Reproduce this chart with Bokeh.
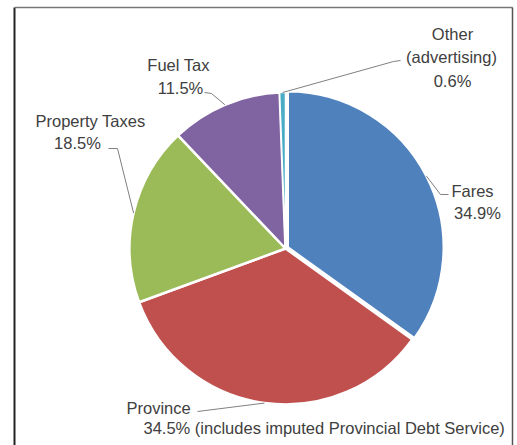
import math
from bokeh.plotting import figure
from bokeh.models import Range1d
from bokeh.core.properties import value
from bokeh.embed import file_html
from bokeh.resources import INLINE

# ---- data ----
categories = ["Fares", "Province", "Property Taxes", "Fuel Tax", "Other (advertising)"]
shares = [34.9, 34.5, 18.5, 11.5, 0.6]
label_lines = [["Fares"], ["Province"], ["Property Taxes"], ["Fuel Tax"], ["Other", "(advertising)"]]
notes = ["", " (includes imputed Provincial Debt Service)", "", "", ""]

# ---- style ----
colors = ["#4F81BD", "#C0504D", "#9BBB59", "#8064A2", "#4BACC6"]
W, H = 517, 445
FONT = value("Liberation Sans")
FS = "16.5px"
TXT = "#404040"
LEAD = "#808080"


def Y(py):
    return H - py


p = figure(width=W, height=H, x_range=Range1d(0, W), y_range=Range1d(0, H),
           output_backend="svg", toolbar_location=None, min_border=0)
p.axis.visible = False
p.grid.visible = False
p.outline_line_color = None
p.background_fill_color = "white"
p.border_fill_color = "white"

# frame
p.line([14, 14], [Y(445), Y(7)], line_color="#222222", line_width=2)
p.line([14, 512], [Y(7), Y(7)], line_color="#777777", line_width=1.5)
p.line([512, 512], [Y(7), Y(445)], line_color="#555555", line_width=1.5)

# pie
cx, cy, R = 285, Y(248), 156
total = sum(shares)
explode = [2.5, 0, 0, 0, 0]
cum = 0.0
mids = []
centers = []
for i, s in enumerate(shares):
    a0 = math.pi / 2 - 2 * math.pi * cum / total
    cum += s
    a1 = math.pi / 2 - 2 * math.pi * cum / total
    mid = (a0 + a1) / 2
    ox = cx + explode[i] * math.cos(mid)
    oy = cy + explode[i] * math.sin(mid)
    mids.append(mid)
    centers.append((ox, oy))
    p.wedge(x=[ox], y=[oy], radius=R, start_angle=a0, end_angle=a1,
            direction="clock", fill_color=colors[i], line_color="white",
            line_width=2.5 if s > 1 else 1.5)


def edge(i):
    ox, oy = centers[i]
    return ox + R * math.cos(mids[i]), oy + R * math.sin(mids[i])


pct = [f"{s:.1f}%" for s in shares]

# Fares
ex, ey = edge(0)
p.line([ex, 440, 448], [ey, Y(194), Y(194)], line_color=LEAD, line_width=1)
p.text(x=[472, 477], y=[Y(190), Y(212)], text=[label_lines[0][0], pct[0]],
       text_font=FONT, text_font_size=FS, text_color=TXT,
       text_align="center", text_baseline="middle")

# Province
ex, ey = edge(1)
p.line([197, ex], [Y(411), ey], line_color=LEAD, line_width=1)
p.text(x=[126, 143], y=[Y(407), Y(427)], text=[label_lines[1][0], pct[1] + notes[1]],
       text_font=FONT, text_font_size=FS, text_color=TXT,
       text_align="left", text_baseline="middle")

# Property Taxes
ex, ey = edge(2)
p.line([108, 117, ex], [Y(148), Y(148), ey], line_color=LEAD, line_width=1)
p.text(x=[90, 77], y=[Y(120), Y(142)], text=[label_lines[2][0], pct[2]],
       text_font=FONT, text_font_size=FS, text_color=TXT,
       text_align="center", text_baseline="middle")

# Fuel Tax
ex, ey = edge(3)
p.line([204, 211, ex], [Y(92), Y(93), ey], line_color=LEAD, line_width=1)
p.text(x=[178, 180], y=[Y(64), Y(87)], text=[label_lines[3][0], pct[3]],
       text_font=FONT, text_font_size=FS, text_color=TXT,
       text_align="center", text_baseline="middle")

# Other
ex, ey = edge(4)
p.line([ex, 393, 400], [ey, Y(61), Y(60)], line_color=LEAD, line_width=1)
p.text(x=[452, 451, 452], y=[Y(33), Y(56), Y(80)],
       text=[label_lines[4][0], label_lines[4][1], pct[4]],
       text_font=FONT, text_font_size=FS, text_color=TXT,
       text_align="center", text_baseline="middle")

open("out.html", "w").write(file_html(p, INLINE))
